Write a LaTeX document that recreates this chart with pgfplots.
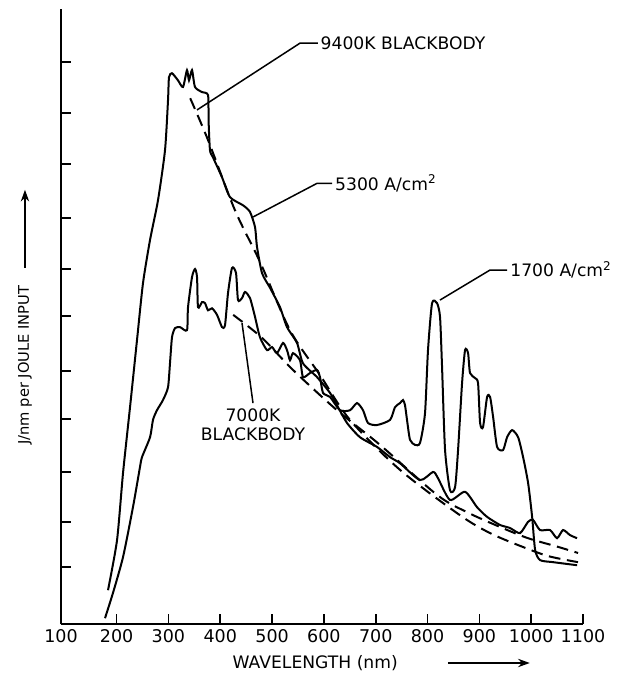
\documentclass[border=0pt]{standalone}
\usepackage{fontspec}
\setmainfont{DejaVu Sans}
\usepackage{pgfplots}
\pgfplotsset{compat=1.18}
\usetikzlibrary{arrows.meta}

\begin{document}
\begin{tikzpicture}[font=\fontsize{10.3}{12}\selectfont]
\begin{axis}[
    name=ax,
    scale only axis,
    width=313.2pt, height=369pt,
    xmin=92.7, xmax=1100,
    ymin=0.137, ymax=12.2,
    axis lines=left,
    axis line style={-, line width=1.2pt},
    xtick={92.7,200,300,400,500,600,700,800,900,1000,1100},
    xticklabels={100,200,300,400,500,600,700,800,900,1000,1100},
    ytick={1.25,2.14,3.12,4.16,5.10,6.18,7.10,8.10,9.16,10.16,11.16},
    yticklabels={},
    tick align=inside,
    major tick length=6pt,
    tick style={line width=1pt, black},
    /pgf/number format/assume math mode=true,
    ticklabel style={font=\fontsize{10.5}{12}\selectfont},
    clip=false,
]

% 5300 A/cm2
\addplot[black, line width=1.2pt, smooth, tension=0.4] coordinates {
    (183.4,0.80) (200.8,1.78) (212.4,3.10) (225.9,4.39) (239.4,5.71)
    (250.9,6.82) (264.5,7.67) (279.9,8.45) (293.4,9.43) (299.2,10.41)
    (301.1,10.86) (306.9,10.94) (318.5,10.80) (328.1,10.67) (335.8,11.0)
    (339.7,10.80) (345.5,11.0) (351.3,10.67) (364.8,10.57) (376.4,10.51)
    (377.5,10.0) (380.2,9.43) (386.0,9.29) (403.4,8.90) (418.8,8.51)
    (443.9,8.35) (457.4,8.22) (467.1,7.92) (471.0,7.53) (480.6,7.02)
    (496.1,6.73) (515.3,6.35) (528.8,5.96) (548.1,5.65) (559.7,5.25)
    (586.7,4.98) (611.8,4.67) (627.3,4.39) (644.6,4.08) (669.7,3.80)
    (702.5,3.61) (727.6,3.41) (746.9,3.29) (785.5,2.96) (810.6,3.12)
    (820.0,3.00) (843.3,2.57) (872.3,2.73) (895.4,2.43) (914.7,2.24)
    (939.8,2.08) (959.1,2.02) (978.4,1.92) (993.9,2.14) (1003.5,2.18)
    (1017.0,1.98) (1036.4,1.98) (1049.9,1.82) (1061.5,1.98) (1075.0,1.88)
    (1088.5,1.82)
};

% 1700 A/cm2
\addplot[black, line width=1.2pt, smooth, tension=0.4] coordinates {
    (177.6,0.25) (193.1,0.75) (212.4,1.45) (231.6,2.43) (245.2,3.22)
    (249.0,3.41) (264.5,3.80) (270.2,4.14) (277.9,4.33) (289.5,4.53)
    (299.2,4.78) (303.0,5.25) (306.9,5.76) (312.7,5.94) (322.3,5.96)
    (335.8,5.90) (337.8,6.35) (345.5,6.94) (351.3,7.10) (355.2,6.94)
    (357.1,6.35) (364.8,6.45) (370.6,6.43) (376.4,6.29) (384.1,6.33)
    (393.8,6.20) (403.4,5.96) (409.2,6.00) (415.0,6.63) (422.7,7.12)
    (430.4,7.02) (434.3,6.49) (442.0,6.53) (447.8,6.65) (457.4,6.53)
    (467.1,6.16) (476.7,5.76) (490.2,5.51) (499.9,5.57) (509.5,5.45)
    (521.1,5.65) (528.8,5.51) (534.6,5.31) (540.4,5.45) (553.9,5.31)
    (559.7,4.98) (573.2,5.06) (586.7,5.12) (592.5,4.98) (598.3,4.67)
    (611.8,4.59) (631.1,4.33) (650.4,4.33) (663.9,4.47) (675.5,4.33)
    (685.1,4.08) (702.5,4.04) (727.6,4.14) (737.2,4.39) (746.9,4.47)
    (752.7,4.53) (756.5,4.43) (760.4,4.14) (766.2,3.75) (775.8,3.65)
    (785.5,3.69) (795.1,4.27) (800.9,5.51) (808.7,6.43) (818.3,6.43)
    (824.1,6.16) (828.0,5.18) (833.8,3.55) (843.4,2.76) (853.1,2.82)
    (858.9,3.55) (866.6,4.86) (872.4,5.51) (878.2,5.45) (882.0,5.06)
    (891.7,4.96) (897.5,4.86) (901.4,4.08) (907.1,4.00) (914.9,4.59)
    (920.7,4.59) (926.5,4.20) (934.2,3.61) (945.8,3.55) (953.5,3.80)
    (963.2,3.94) (974.8,3.80) (984.4,3.41) (994.1,2.90) (1001.8,2.24)
    (1007.6,1.59) (1017.2,1.39) (1042.3,1.35) (1088.6,1.29)
};

% 9400K blackbody
\addplot[black, line width=1.2pt, smooth, dash pattern=on 7pt off 4pt] coordinates {
    (342.0,10.45) (376.4,9.63) (428.5,8.25) (476.7,7.24) (534.6,5.90)
    (592.5,5.02) (650.4,4.14) (746.9,3.16) (862.7,2.27) (920.6,1.92)
    (978.5,1.67) (1032.5,1.47) (1090.4,1.35)
};

% 7000K blackbody
\addplot[black, line width=1.2pt, smooth, dash pattern=on 7pt off 4pt] coordinates {
    (425.0,6.20) (480.6,5.75) (540.4,5.12) (625.3,4.33) (708.3,3.65)
    (818.3,2.67) (876.2,2.33) (939.9,2.04) (993.9,1.82) (1051.8,1.65)
    (1090.4,1.53)
};

% leaders and labels
\draw[line width=0.9pt] (axis cs:355.2,10.22) -- (axis cs:553.9,11.53) -- (axis cs:588.6,11.53);
\node[anchor=west, inner sep=1pt] at (axis cs:590,11.53) {9400K BLACKBODY};
\draw[line width=0.9pt] (axis cs:463.2,8.12) -- (axis cs:586.7,8.78) -- (axis cs:615.7,8.78);
\node[anchor=west, inner sep=1pt] at (axis cs:618,8.78) {5300 A/cm\textsuperscript{2}};
\draw[line width=0.9pt] (axis cs:823.9,6.49) -- (axis cs:920.6,7.08) -- (axis cs:953.4,7.08);
\node[anchor=west, inner sep=1pt] at (axis cs:956,7.08) {1700 A/cm\textsuperscript{2}};
\draw[line width=0.9pt] (axis cs:442.0,6.04) -- (axis cs:463.2,4.47);
\node[anchor=north, align=center, inner sep=1pt, font=\fontsize{10.3}{11.5}\selectfont] at (axis cs:463.2,4.40) {7000K\\BLACKBODY};

% axis titles with arrows
\node at (rel axis cs:0.487,-0.0634) {WAVELENGTH (nm)};
\draw[-{Stealth[length=7pt,width=5pt]}, line width=1pt] (rel axis cs:0.741,-0.0634) -- (rel axis cs:0.898,-0.0634);
\node[rotate=90, font=\fontsize{8.8}{10}\selectfont] at (rel axis cs:-0.069,0.421) {J/nm per JOULE INPUT};
\draw[-{Stealth[length=7pt,width=5pt]}, line width=1pt] (rel axis cs:-0.069,0.579) -- (rel axis cs:-0.069,0.706);
\end{axis}
\pgfresetboundingbox
\useasboundingbox ([xshift=-36.6pt,yshift=-34.2pt]ax.south west) rectangle ([xshift=23.4pt,yshift=5.4pt]ax.north east);
\end{tikzpicture}
\end{document}
